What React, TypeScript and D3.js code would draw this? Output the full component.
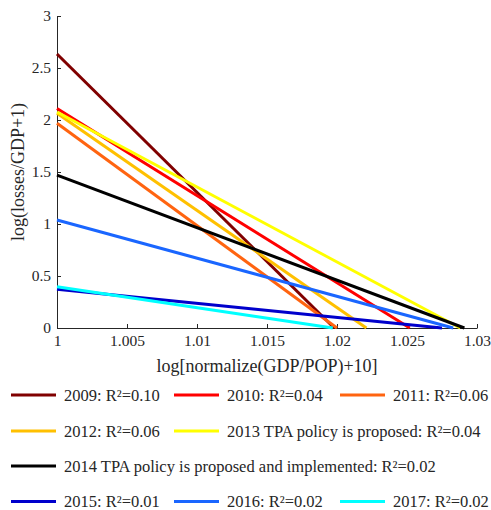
import React, { useEffect, useRef } from 'react';
import * as d3 from 'd3';

// fitted regression lines: value at x=1 and where they reach zero
const years = ['2009', '2010', '2011', '2012', '2013', '2014', '2015', '2016', '2017'];
const legendLabels = [
  '2009: R²=0.10',
  '2010: R²=0.04',
  '2011: R²=0.06',
  '2012: R²=0.06',
  '2013 TPA policy is proposed: R²=0.04',
  '2014 TPA policy is proposed and implemented: R²=0.02',
  '2015: R²=0.01',
  '2016: R²=0.02',
  '2017: R²=0.02',
];
const startY = [2.635, 2.11, 1.968, 2.064, 2.077, 1.47, 0.372, 1.038, 0.397];
const endX = [1.0198, 1.0252, 1.02, 1.0221, 1.0288, 1.0291, 1.0275, 1.0283, 1.0197];
const colors = ['#800000', '#ff0000', '#ff6410', '#ffc000', '#ffff00', '#000000', '#0000cc', '#1a66ff', '#00ffff'];

const xTicks = [1, 1.005, 1.01, 1.015, 1.02, 1.025, 1.03];
const yTicks = [0, 0.5, 1, 1.5, 2, 2.5, 3];

const W = 491;
const H = 510;
const plot = { left: 57, right: 477, top: 16, bottom: 328 };
const font = 'Liberation Serif, Tinos, Times New Roman, DejaVu Serif, serif';
const axisColor = '#262626';

// legend flow: rows of series indices, with column start positions
const legendRows = [[0, 1, 2], [3, 4], [5], [6, 7, 8]];
const legendRowY = [395, 431, 466, 501.5];
const legendColX = [11, 174, 340];

const App = () => {
  const svgRef = useRef<SVGSVGElement>(null);

  useEffect(() => {
    const svg = d3.select(svgRef.current);
    svg.selectAll('*').remove();

    const x = d3.scaleLinear().domain([1, 1.03]).range([plot.left, plot.right]);
    const y = d3.scaleLinear().domain([0, 3]).range([plot.bottom, plot.top]);

    const gx = svg.append('g')
      .attr('transform', `translate(0,${plot.bottom})`)
      .call(d3.axisBottom(x).tickValues(xTicks).tickFormat(d => String(+d)).tickSizeInner(-4).tickSizeOuter(0).tickPadding(7));
    const gy = svg.append('g')
      .attr('transform', `translate(${plot.left},0)`)
      .call(d3.axisLeft(y).tickValues(yTicks).tickFormat(d => String(+d)).tickSizeInner(-4).tickSizeOuter(0).tickPadding(6));

    [gx, gy].forEach(g => {
      g.attr('font-family', font).attr('font-size', 15.5);
      g.selectAll('path, line').attr('stroke', axisColor);
      g.selectAll('text').attr('fill', axisColor);
    });

    const line = d3.line<[number, number]>().x(d => x(d[0])).y(d => y(d[1]));
    svg.append('g')
      .selectAll('path')
      .data(years.map((yr, i) => ({ yr, i, pts: [[1, startY[i]], [endX[i], 0]] as [number, number][] })))
      .join('path')
      .attr('d', d => line(d.pts))
      .attr('fill', 'none')
      .attr('stroke', d => colors[d.i])
      .attr('stroke-width', 3);

    svg.append('text')
      .attr('x', (plot.left + plot.right) / 2)
      .attr('y', 372)
      .attr('text-anchor', 'middle')
      .attr('fill', axisColor)
      .attr('font-family', font)
      .attr('font-size', 18)
      .text('log[normalize(GDP/POP)+10]');

    svg.append('text')
      .attr('transform', `translate(24,${(plot.top + plot.bottom) / 2}) rotate(-90)`)
      .attr('text-anchor', 'middle')
      .attr('fill', axisColor)
      .attr('font-family', font)
      .attr('font-size', 18)
      .text('log(losses/GDP+1)');

    const legend = svg.append('g').attr('font-family', font).attr('font-size', 16.5);
    legendRows.forEach((row, r) => {
      row.forEach((idx, c) => {
        const item = legend.append('g').attr('transform', `translate(${legendColX[c]},${legendRowY[r]})`);
        item.append('line')
          .attr('x1', 0).attr('x2', 45)
          .attr('y1', 0).attr('y2', 0)
          .attr('stroke', colors[idx])
          .attr('stroke-width', 3);
        item.append('text')
          .attr('x', 53)
          .attr('y', 5.5)
          .attr('fill', axisColor)
          .text(legendLabels[idx]);
      });
    });
  }, []);

  return (
    <svg
      ref={svgRef}
      width={W}
      height={H}
      style={{ position: 'absolute', left: 0, top: 0, background: '#fff' }}
    />
  );
};

export default App;
